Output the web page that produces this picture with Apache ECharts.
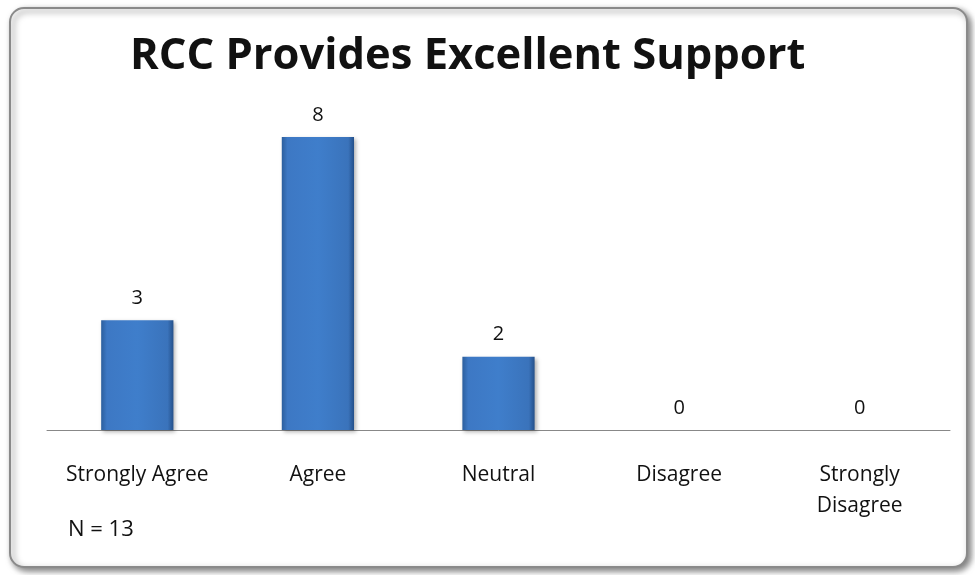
<!DOCTYPE html>
<html><head><meta charset="utf-8">
<script src="https://cdn.jsdelivr.net/npm/echarts@6/dist/echarts.min.js"></script>
<style>html,body{margin:0;padding:0;background:#fff}#c{width:975px;height:575px}</style>
</head><body><div id="c"></div>
<script>
const categories = ['Strongly Agree', 'Agree', 'Neutral', 'Disagree', 'Strongly\nDisagree'];
const values = [3, 8, 2, 0, 0];
const titleText = 'RCC Provides Excellent Support';
const noteText = 'N = 13';

const chart = echarts.init(document.getElementById('c'));
const barFill = new echarts.graphic.LinearGradient(0, 0, 1, 0, [
  {offset: 0, color: '#2c5f9e'},
  {offset: 0.08, color: '#3d78c4'},
  {offset: 0.5, color: '#3f7ecb'},
  {offset: 0.92, color: '#3a73bb'},
  {offset: 1, color: '#24508a'}
]);
chart.setOption({
  animation: false,
  graphic: [
    {type: 'rect', left: 9, top: 7, shape: {width: 957, height: 559, r: 14},
     style: {fill: '#fff', stroke: '#8a8a8a', lineWidth: 2, shadowBlur: 6, shadowOffsetX: 3, shadowOffsetY: 3, shadowColor: 'rgba(0,0,0,0.5)'}, z: -10},
    {type: 'text', left: 68, top: 519, style: {text: noteText, font: '22px "Open Sans", "DejaVu Sans", sans-serif', fill: '#111'}}
  ],
  title: {text: titleText, left: 125, top: 30,
    textStyle: {fontFamily: '"Open Sans", sans-serif', fontWeight: 'bold', fontSize: 43.5, color: '#111'}},
  grid: {left: 47, right: 25, top: 137, bottom: 145},
  xAxis: {type: 'category', data: categories,
    axisLine: {lineStyle: {color: '#888', width: 1}}, axisTick: {show: false},
    axisLabel: {interval: 0, margin: 30, fontSize: 21, color: '#111', lineHeight: 31, fontFamily: '"Open Sans", sans-serif'}},
  yAxis: {type: 'value', min: 0, max: 8, show: false, splitLine: {show: false}},
  series: [{type: 'bar', data: values, barWidth: '40%',
    itemStyle: {color: barFill, borderWidth: 0,
      shadowBlur: 4, shadowOffsetX: 2, shadowOffsetY: 2, shadowColor: 'rgba(0,0,0,0.3)'},
    label: {show: true, position: 'top', distance: 12, fontSize: 20, color: '#111', fontFamily: '"Open Sans", sans-serif'}}]
});
</script></body></html>
